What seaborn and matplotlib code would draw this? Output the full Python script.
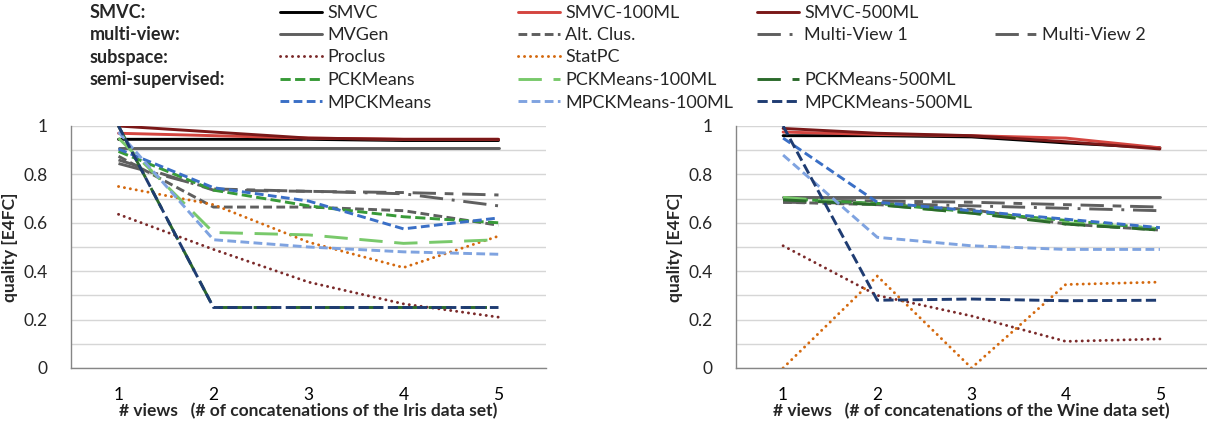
import numpy as np
import pandas as pd
import matplotlib
matplotlib.use('Agg')
import matplotlib.pyplot as plt
import seaborn as sns
from matplotlib.lines import Line2D
from matplotlib.ticker import FixedLocator, FuncFormatter

# x values: number of views
views = [1, 2, 3, 4, 5]

# Iris data set
iris_smvc = [0.945, 0.945, 0.945, 0.94, 0.94]
iris_smvc_100 = [0.97, 0.96, 0.95, 0.945, 0.945]
iris_smvc_500 = [1.0, 0.975, 0.95, 0.945, 0.945]
iris_mvgen = [0.91, 0.91, 0.91, 0.91, 0.91]
iris_altclus = [0.875, 0.665, 0.665, 0.65, 0.59]
iris_mv1 = [0.86, 0.735, 0.73, 0.72, 0.67]
iris_mv2 = [0.845, 0.74, 0.73, 0.725, 0.715]
iris_proclus = [0.635, 0.49, 0.355, 0.265, 0.21]
iris_statpc = [0.75, 0.675, 0.52, 0.415, 0.545]
iris_pck = [0.895, 0.735, 0.67, 0.625, 0.6]
iris_pck_100 = [0.95, 0.56, 0.55, 0.515, 0.53]
iris_pck_500 = [1.0, 0.25, 0.25, 0.25, 0.25]
iris_mpck = [0.905, 0.745, 0.69, 0.575, 0.62]
iris_mpck_100 = [0.975, 0.53, 0.5, 0.48, 0.47]
iris_mpck_500 = [1.0, 0.25, 0.25, 0.25, 0.25]

# Wine data set
wine_smvc = [0.96, 0.96, 0.955, 0.93, 0.91]
wine_smvc_100 = [0.975, 0.965, 0.96, 0.95, 0.91]
wine_smvc_500 = [0.99, 0.97, 0.96, 0.935, 0.905]
wine_mvgen = [0.705, 0.705, 0.705, 0.705, 0.705]
wine_altclus = [0.685, 0.675, 0.655, 0.595, 0.57]
wine_mv1 = [0.685, 0.68, 0.67, 0.66, 0.65]
wine_mv2 = [0.695, 0.69, 0.685, 0.675, 0.665]
wine_proclus = [0.505, 0.3, 0.215, 0.11, 0.12]
wine_statpc = [0.0, 0.38, 0.0, 0.345, 0.355]
wine_pck = [0.70, 0.68, 0.645, 0.61, 0.575]
wine_pck_100 = [0.705, 0.675, 0.64, 0.6, 0.575]
wine_pck_500 = [0.695, 0.675, 0.64, 0.595, 0.57]
wine_mpck = [0.95, 0.685, 0.65, 0.615, 0.58]
wine_mpck_100 = [0.88, 0.54, 0.505, 0.49, 0.49]
wine_mpck_500 = [1.0, 0.28, 0.285, 0.278, 0.28]

methods = ['SMVC', 'SMVC-100ML', 'SMVC-500ML', 'MVGen', 'Alt. Clus.',
           'Multi-View 1', 'Multi-View 2', 'Proclus', 'StatPC', 'PCKMeans',
           'PCKMeans-100ML', 'PCKMeans-500ML', 'MPCKMeans', 'MPCKMeans-100ML',
           'MPCKMeans-500ML']
iris_values = [iris_smvc, iris_smvc_100, iris_smvc_500, iris_mvgen, iris_altclus,
               iris_mv1, iris_mv2, iris_proclus, iris_statpc, iris_pck,
               iris_pck_100, iris_pck_500, iris_mpck, iris_mpck_100, iris_mpck_500]
wine_values = [wine_smvc, wine_smvc_100, wine_smvc_500, wine_mvgen, wine_altclus,
               wine_mv1, wine_mv2, wine_proclus, wine_statpc, wine_pck,
               wine_pck_100, wine_pck_500, wine_mpck, wine_mpck_100, wine_mpck_500]

# line styles (color, dash pattern, dotted?)
GRAY = '#5f5f5f'
styles = {
    'SMVC': ('#000000', '-', False),
    'SMVC-100ML': ('#d4453f', '-', False),
    'SMVC-500ML': ('#7a1818', '-', False),
    'MVGen': (GRAY, '-', False),
    'Alt. Clus.': (GRAY, (0, (3, 1.5)), False),
    'Multi-View 1': (GRAY, (0, (8, 3, 1, 3)), False),
    'Multi-View 2': (GRAY, (0, (8, 3, 3, 3)), False),
    'Proclus': ('#7b2a2a', (0, (0.05, 2.0)), True),
    'StatPC': ('#d4690f', (0, (0.05, 2.0)), True),
    'PCKMeans': ('#389a38', (0, (3.5, 1.5)), False),
    'PCKMeans-100ML': ('#79c96b', (0, (8, 4)), False),
    'PCKMeans-500ML': ('#2b6a2b', (0, (8, 4)), False),
    'MPCKMeans': ('#3a6fc6', (0, (3, 1.5)), False),
    'MPCKMeans-100ML': ('#7fa3e0', (0, (3, 1.5)), False),
    'MPCKMeans-500ML': ('#1f3c72', (0, (3.5, 1.5)), False),
}
LW = 2.1

sns.set_style('white')
plt.rcParams['font.family'] = ['Lato', 'DejaVu Sans']

W, H = 1207, 424
fig = plt.figure(figsize=(W / 100, H / 100), dpi=100)

ax_iris = fig.add_axes([71 / W, (H - 368) / H, 475 / W, 242 / H])
ax_wine = fig.add_axes([736 / W, (H - 368) / H, 471 / W, 242 / H])


def draw_panel(ax, values, dataset):
    for name, vals in zip(methods, values):
        color, ls, dotted = styles[name]
        sns.lineplot(x=views, y=vals, ax=ax, color=color, lw=LW, linestyle=ls)
        if dotted:
            ax.lines[-1].set_dash_capstyle('round')
    ax.set_xlim(0.5, 5.5)
    ax.set_ylim(0, 1)
    ax.xaxis.set_major_locator(FixedLocator(views))
    ax.xaxis.set_minor_locator(FixedLocator(np.arange(0.5, 6.0, 1.0)))
    ax.yaxis.set_major_locator(FixedLocator(np.arange(0, 1.01, 0.2)))
    ax.yaxis.set_minor_locator(FixedLocator(np.arange(0.1, 1.0, 0.2)))
    ax.yaxis.set_major_formatter(FuncFormatter(lambda v, _: f'{v:g}'))
    ax.tick_params(axis='x', which='major', length=0, pad=14, labelsize=12.5, colors='#000000')
    ax.tick_params(axis='x', which='minor', length=5, width=1, color='#868686', direction='out')
    ax.tick_params(axis='y', which='major', length=5, width=1, color='#868686', direction='out',
                   pad=12, labelsize=12.5)
    ax.tick_params(axis='y', which='minor', length=0)
    ax.grid(axis='y', which='both', color='#d6d6d6', lw=1)
    ax.set_axisbelow(True)
    for side in ['top', 'right']:
        ax.spines[side].set_visible(False)
    for side in ['left', 'bottom']:
        ax.spines[side].set_color('#868686')
        ax.spines[side].set_linewidth(1)
    ax.set_xlabel(f'# views   (# of concatenations of the {dataset} data set)',
                  fontsize=12.5, fontweight='bold')
    ax.set_ylabel('quality [E4FC]', fontsize=12.5, fontweight='bold')
    width_px = ax.get_position().width * W
    ax.xaxis.set_label_coords(0.5, -0.145)
    ax.yaxis.set_label_coords(-53 / width_px, 0.5)


draw_panel(ax_iris, iris_values, 'Iris')
draw_panel(ax_wine, wine_values, 'Wine')

# legend layout: group labels and entries arranged in a grid
row_y = [13, 35, 57.5, 80, 102.5]
col_x = [280, 518, 757, 995]
group_labels = ['SMVC:', 'multi-view:', 'subspace:', 'semi-supervised:']
legend_grid = [
    ['SMVC', 'SMVC-100ML', 'SMVC-500ML', None],
    ['MVGen', 'Alt. Clus.', 'Multi-View 1', 'Multi-View 2'],
    ['Proclus', 'StatPC', None, None],
    ['PCKMeans', 'PCKMeans-100ML', 'PCKMeans-500ML', None],
    ['MPCKMeans', 'MPCKMeans-100ML', 'MPCKMeans-500ML', None],
]

for label, y in zip(group_labels, row_y):
    fig.text(90 / W, 1 - y / H, label, ha='left', va='center',
             fontsize=13, fontweight='bold')

for r, row in enumerate(legend_grid):
    for c, name in enumerate(row):
        if name is None:
            continue
        color, ls, dotted = styles[name]
        handle = Line2D([], [], color=color, lw=LW, linestyle=ls)
        if dotted:
            handle.set_dash_capstyle('round')
        fig.legend(handles=[handle], labels=[name], loc='center left',
                   bbox_to_anchor=(col_x[c] / W, 1 - row_y[r] / H),
                   frameon=False, fontsize=13, handlelength=2.3,
                   handletextpad=0.3, borderpad=0, borderaxespad=0)

fig.savefig('out.png', dpi=100)
